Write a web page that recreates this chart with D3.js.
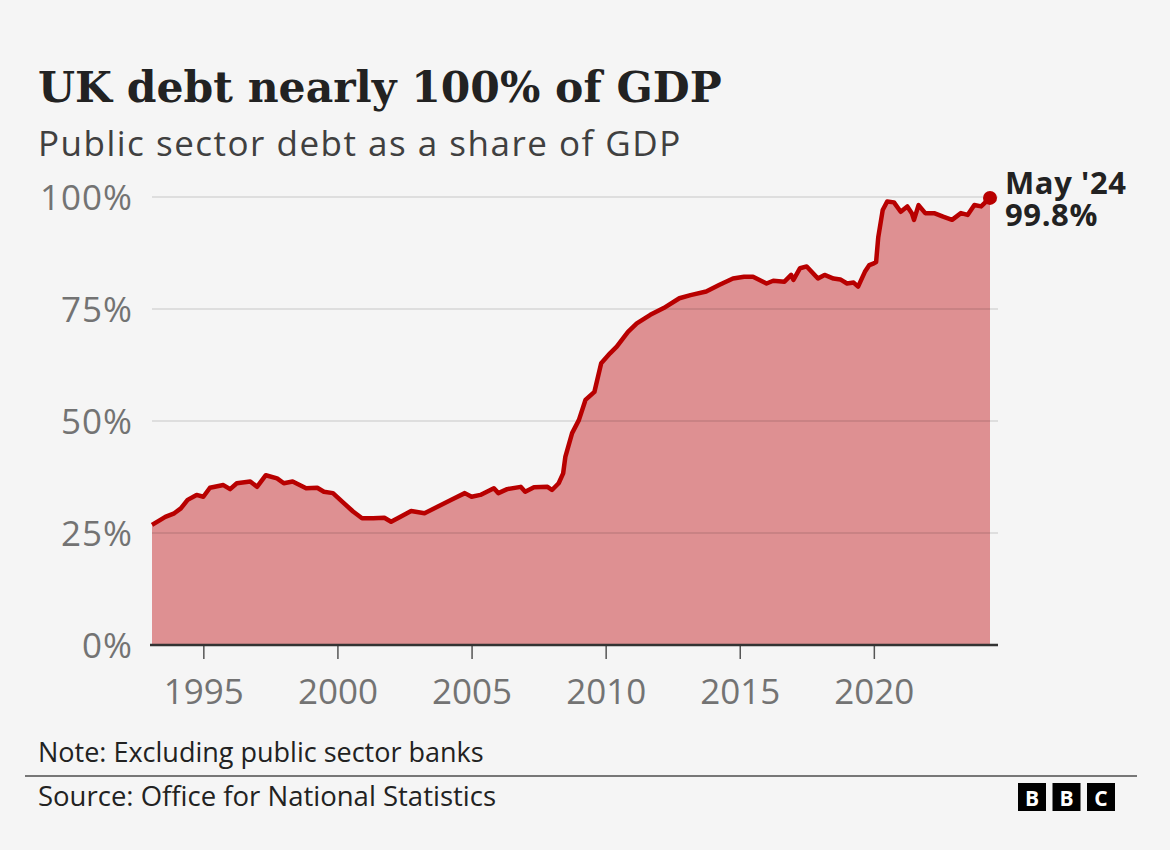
<!DOCTYPE html>
<html>
<head>
<meta charset="utf-8">
<script src="https://cdn.jsdelivr.net/npm/d3@7"></script>
<style>
  body { margin: 0; background: #f5f5f5; }
  svg { display: block; }
  text { font-family: 'Open Sans', sans-serif; }
</style>
</head>
<body>
<svg></svg>
<script>
// Public sector net debt ex. banks, % of GDP
const months = [
  '1993-02', '1993-06', '1993-08', '1993-12', '1994-03', '1994-06', '1994-10',
  '1995-01', '1995-04', '1995-10', '1996-01', '1996-04', '1996-10', '1997-01',
  '1997-05', '1997-10', '1998-01', '1998-05', '1998-11', '1999-04', '1999-07',
  '1999-11', '2000-04', '2000-08', '2000-12', '2001-05', '2001-10', '2002-01',
  '2002-04', '2002-10', '2003-04', '2003-10', '2004-04', '2004-10', '2005-01',
  '2005-05', '2005-11', '2006-01', '2006-05', '2006-11', '2007-01', '2007-05',
  '2007-11', '2008-01', '2008-04', '2008-06', '2008-07', '2008-10', '2009-01',
  '2009-04', '2009-08', '2009-11', '2010-03', '2010-06', '2010-11', '2011-03',
  '2011-09', '2012-03', '2012-10', '2013-03', '2013-10', '2014-04', '2014-10',
  '2015-03', '2015-07', '2016-01', '2016-04', '2016-09', '2016-12', '2017-01',
  '2017-04', '2017-07', '2017-12', '2018-03', '2018-07', '2018-10', '2019-01',
  '2019-04', '2019-06', '2019-09', '2019-11', '2020-01', '2020-02', '2020-03',
  '2020-05', '2020-07', '2020-10', '2021-01', '2021-04', '2021-06', '2021-07',
  '2021-09', '2021-12', '2022-04', '2022-08', '2022-12', '2023-04', '2023-07',
  '2023-10', '2024-01', '2024-05'
];
const debtShare = [
  26.8, 28.0, 28.6, 29.4, 30.5, 32.4, 33.5,
  33.1, 35.1, 35.7, 34.8, 36.1, 36.5, 35.3,
  37.9, 37.2, 36.1, 36.5, 35.0, 35.1, 34.2,
  33.9, 31.6, 29.8, 28.3, 28.3, 28.4, 27.5,
  28.3, 29.9, 29.4, 30.9, 32.4, 33.9, 33.1,
  33.5, 35.0, 33.9, 34.8, 35.3, 34.2, 35.2,
  35.3, 34.6, 36.1, 38.3, 42.0, 47.3, 50.2,
  54.7, 56.5, 62.9, 65.1, 66.6, 69.9, 71.8,
  73.7, 75.2, 77.4, 78.1, 78.9, 80.4, 81.8,
  82.2, 82.2, 80.7, 81.3, 81.1, 82.6, 81.5,
  84.1, 84.5, 81.8, 82.6, 81.8, 81.6, 80.7,
  80.9, 80.0, 83.3, 84.8, 85.2, 85.5, 91.0,
  97.1, 99.0, 98.8, 96.7, 97.9, 96.4, 94.9,
  98.2, 96.4, 96.4, 95.6, 94.9, 96.4, 96.0,
  98.2, 97.9, 99.8
];
const yTicks = [0, 25, 50, 75, 100];
const xTickYears = [1995, 2000, 2005, 2010, 2015, 2020];
const lastLabel = ["May '24", '99.8%'];

const width = 1170;
const height = 850;
const parse = d3.timeParse('%Y-%m');
const data = months.map((m, i) => ({ date: parse(m), value: debtShare[i] }));

const svg = d3.select('svg')
    .attr('width', width)
    .attr('height', height);

svg.append('rect')
    .attr('width', width)
    .attr('height', height)
    .attr('fill', '#f5f5f5');

const x = d3.scaleTime()
    .domain(d3.extent(data, d => d.date))
    .range([152, 990]);

const y = d3.scaleLinear()
    .domain([0, 100])
    .range([645, 197]);

const axisEnd = 998;

// titles
svg.append('text')
    .attr('x', 38)
    .attr('y', 102)
    .attr('fill', '#222')
    .style('font-family', "'DejaVu Serif', serif")
    .style('font-weight', 'bold')
    .style('font-size', '42.5px')
    .text('UK debt nearly 100% of GDP');

svg.append('text')
    .attr('x', 38)
    .attr('y', 156)
    .attr('fill', '#404040')
    .style('font-size', '35px')
    .style('letter-spacing', '1.5px')
    .text('Public sector debt as a share of GDP');

// area + line
svg.append('path')
    .datum(data)
    .attr('fill', '#de9092')
    .attr('d', d3.area()
        .x(d => x(d.date))
        .y0(y(0))
        .y1(d => y(d.value)));

// gridlines drawn on top so they show through the area
svg.append('g')
    .selectAll('line')
    .data(yTicks.filter(t => t > 0))
    .enter().append('line')
    .attr('x1', 152)
    .attr('x2', axisEnd)
    .attr('y1', d => y(d))
    .attr('y2', d => y(d))
    .attr('stroke', '#000')
    .attr('stroke-opacity', 0.13)
    .attr('stroke-width', 1.5);

svg.append('path')
    .datum(data)
    .attr('fill', 'none')
    .attr('stroke', '#b80000')
    .attr('stroke-width', 4.5)
    .attr('stroke-linejoin', 'round')
    .attr('d', d3.line()
        .x(d => x(d.date))
        .y(d => y(d.value)));

// y labels
svg.append('g')
    .selectAll('text')
    .data(yTicks)
    .enter().append('text')
    .attr('x', 133)
    .attr('y', d => y(d))
    .attr('dy', '0.36em')
    .attr('text-anchor', 'end')
    .attr('fill', '#737373')
    .style('font-size', '35px')
    .style('letter-spacing', '1px')
    .text(d => d + '%');

// x axis
const xAxis = d3.axisBottom(x)
    .tickValues(xTickYears.map(yr => new Date(yr, 0, 1)))
    .tickFormat(d3.timeFormat('%Y'))
    .tickSize(14)
    .tickPadding(20);

const gx = svg.append('g')
    .attr('transform', `translate(0,${y(0)})`)
    .call(xAxis);

gx.select('.domain').remove();
gx.selectAll('.tick line')
    .attr('stroke', '#555')
    .attr('stroke-width', 1.5);
gx.selectAll('.tick text')
    .attr('fill', '#737373')
    .style('font-size', '35px')
    .style('font-family', "'Open Sans', sans-serif");

svg.append('line')
    .attr('x1', 150)
    .attr('x2', axisEnd)
    .attr('y1', y(0))
    .attr('y2', y(0))
    .attr('stroke', '#333')
    .attr('stroke-width', 2.5);

// last point
const last = data[data.length - 1];
svg.append('circle')
    .attr('cx', x(last.date))
    .attr('cy', y(last.value))
    .attr('r', 7)
    .attr('fill', '#b80000');

svg.append('text')
    .attr('y', 194)
    .attr('fill', '#222')
    .style('font-weight', 'bold')
    .style('font-size', '31px')
    .style('letter-spacing', '0.6px')
    .selectAll('tspan')
    .data(lastLabel)
    .enter().append('tspan')
    .attr('x', 1005)
    .attr('dy', (d, i) => i === 0 ? 0 : 32)
    .text(d => d);

// footer
svg.append('text')
    .attr('x', 38)
    .attr('y', 762)
    .attr('fill', '#222')
    .style('font-size', '27px')
    .text('Note: Excluding public sector banks');

svg.append('line')
    .attr('x1', 25)
    .attr('x2', 1137)
    .attr('y1', 776)
    .attr('y2', 776)
    .attr('stroke', '#777')
    .attr('stroke-width', 2);

svg.append('text')
    .attr('x', 38)
    .attr('y', 806)
    .attr('fill', '#222')
    .style('font-size', '27.5px')
    .text('Source: Office for National Statistics');

const logo = svg.append('g')
    .selectAll('g')
    .data(['B', 'B', 'C'])
    .enter().append('g')
    .attr('transform', (d, i) => `translate(${1018 + i * 34.5},783)`);

logo.append('rect')
    .attr('width', 28)
    .attr('height', 28)
    .attr('fill', '#000');

logo.append('text')
    .attr('x', 14)
    .attr('y', 23)
    .attr('text-anchor', 'middle')
    .attr('fill', '#fff')
    .style('font-weight', 'bold')
    .style('font-size', '21px')
    .text(d => d);
</script>
</body>
</html>
